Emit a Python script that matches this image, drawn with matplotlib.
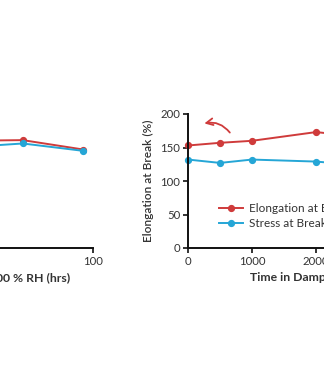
import matplotlib
matplotlib.use("Agg")
import matplotlib.pyplot as plt

plt.rcParams['font.family'] = ['Lato', 'DejaVu Sans']

# Left panel: humidity exposure (hours)
left_hours = [0, 24, 48, 72, 96]
left_elong = [155, 158, 160, 161, 147]
left_stress = [150, 152, 150, 156, 145]
left_xticks = [0, 50, 100]

# Right panel: damp heat exposure (hours)
right_hours = [0, 500, 1000, 2000, 2500]
right_elong = [153, 157, 160, 173, 168]
right_stress = [132, 127, 132, 129, 125]
right_xticks = [0, 1000, 2000, 3000, 4000]
yticks = [0, 50, 100, 150, 200]

RED = '#cf3b3b'
BLUE = '#25a6d6'
TXT = '#333333'

W, H = 324, 385
fig = plt.figure(figsize=(W / 100, H / 100), dpi=100)

def px(x0, y_bottom, w, h):
    return [x0 / W, (H - y_bottom) / H, w / W, h / H]

ax1 = fig.add_axes(px(-158.7, 248, 252, 134))
ax2 = fig.add_axes(px(188, 248, 256, 134))

for ax in (ax1, ax2):
    for s in ('top', 'right'):
        ax.spines[s].set_visible(False)
    for s in ('left', 'bottom'):
        ax.spines[s].set_linewidth(1.4)
        ax.spines[s].set_color('#111111')
    ax.tick_params(direction='out', length=3.5, width=1.2, colors='#111111',
                   labelsize=8.2, labelcolor=TXT, pad=2)
    ax.set_ylim(0, 200)
    ax.set_yticks(yticks)

ax1.plot(left_hours, left_elong, '-o', color=RED, lw=1.4, ms=4.2, clip_on=False)
ax1.plot(left_hours, left_stress, '-o', color=BLUE, lw=1.4, ms=4.2, clip_on=False)
ax1.set_xlim(0, 100)
ax1.set_xticks(left_xticks)
ax1.set_xlabel('Time at 85 °C / 100 % RH (hrs)', fontsize=8.8, fontweight='bold',
               color=TXT, ha='right')
ax1.xaxis.set_label_coords((70 + 158.7) / 252, -(272 - 248) / 134)

ax2.plot(right_hours, right_elong, '-o', color=RED, lw=1.4, ms=4.2,
         label='Elongation at Break', clip_on=False)
ax2.plot(right_hours, right_stress, '-o', color=BLUE, lw=1.4, ms=4.2,
         label='Stress at Break', clip_on=False)
ax2.set_xlim(0, 4000)
ax2.set_xticks(right_xticks)
ax2.set_ylabel('Elongation at Break (%)', fontsize=8.6, fontweight='semibold',
               color=TXT, labelpad=5)
ax2.set_xlabel('Time in Damp Heat (hrs)', fontsize=8.8, fontweight='bold',
               color=TXT, ha='left')
ax2.xaxis.set_label_coords((250 - 188) / 256, -(272 - 248) / 134)

ax2.annotate('', xy=(213, 185), xytext=(680, 169),
             arrowprops=dict(arrowstyle='->', color=RED, lw=1.3,
                             connectionstyle='arc3,rad=0.35',
                             mutation_scale=12))

leg = ax2.legend(loc='upper left', bbox_to_anchor=((219 - 188) / 256, (248 - 203) / 134),
                 frameon=False, fontsize=8.5, handlelength=2.0, handletextpad=0.5,
                 labelspacing=0.35, borderaxespad=0, borderpad=0)
for t in leg.get_texts():
    t.set_color(TXT)

fig.savefig('out.png', dpi=100, facecolor='white')
